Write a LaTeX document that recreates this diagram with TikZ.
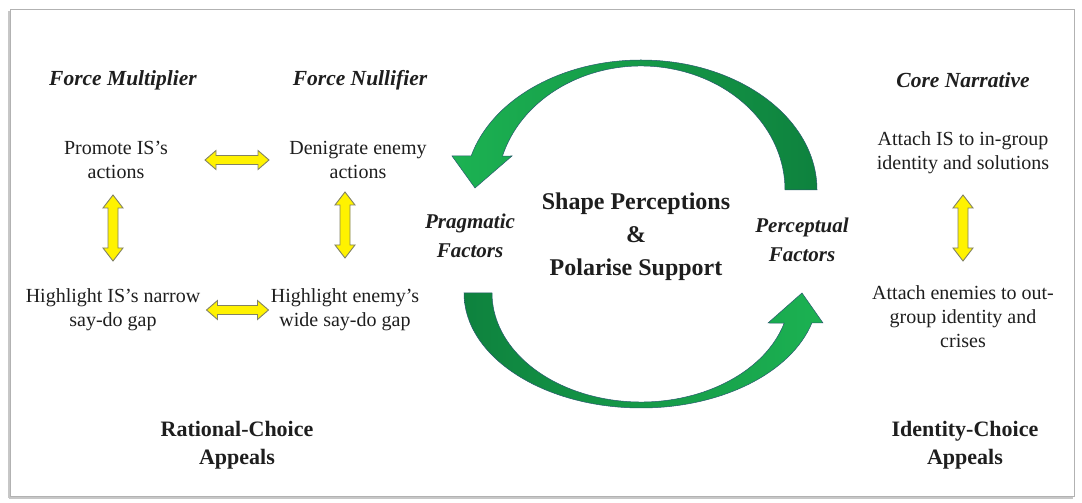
\documentclass[tikz,border=0pt]{standalone}
\usepackage{fontspec}
\setmainfont{Liberation Serif}
\definecolor{gbright}{RGB}{28,178,82}
\definecolor{gdark}{RGB}{14,130,62}
\definecolor{gline}{RGB}{40,90,110}
\definecolor{yline}{RGB}{130,130,100}
\definecolor{ink}{RGB}{30,30,30}
\tikzset{
  txt/.style={font=\fontsize{20}{24}\selectfont, align=center, text=ink, inner sep=0pt},
  headtxt/.style={font=\fontsize{21.5}{25}\selectfont\bfseries\itshape, align=center, text=ink, inner sep=0pt},
  appeal/.style={font=\fontsize{22}{28}\selectfont\bfseries, align=center, text=ink, inner sep=0pt},
  factor/.style={font=\fontsize{21}{29}\selectfont\bfseries\itshape, align=center, text=ink, inner sep=0pt},
  hub/.style={font=\fontsize{24}{33}\selectfont\bfseries, align=center, text=ink, inner sep=0pt},
  yarrow/.style={fill=yellow, draw=yline, line width=0.9pt, line join=miter},
  garrow/.style={draw=gline, line width=0.5pt},
}
% double block arrow centred on a named coordinate
\newcommand\ydarrow[5]{% coord, half length, head length, body half width, head half width ; rotation via scope
  \draw[yarrow] ($(#1)+(-#2,0)$) -- ++(#3,#5) -- ++(0,-#5+#4) -- ($(#1)+(#2-#3,#4)$) -- ++(0,#5-#4) -- ($(#1)+(#2,0)$) -- ++(-#3,-#5) -- ++(0,#5-#4) -- ($(#1)+(-#2+#3,-#4)$) -- ++(0,-#5+#4) -- cycle;}
\newcommand\yvarrow[5]{%
  \draw[yarrow] ($(#1)+(0,-#2)$) -- ++(#5,#3) -- ++(-#5+#4,0) -- ($(#1)+(#4,#2-#3)$) -- ++(#5-#4,0) -- ($(#1)+(0,#2)$) -- ++(-#5,-#3) -- ++(#5-#4,0) -- ($(#1)+(-#4,-#2+#3)$) -- ++(-#5+#4,0) -- cycle;}
\usetikzlibrary{calc}
\begin{document}
\begin{tikzpicture}[x=1pt,y=1pt]
\useasboundingbox (0,0) rectangle (1082,503);
\fill[white] (0,0) rectangle (1082,503);
% frame with slight shadow
\draw[black!22, line width=2pt] (9,5) -- (9,492);
\draw[black!22, line width=2pt] (9,5) -- (1073,5);
\draw[black!30, line width=1pt] (10,6) rectangle (1074,493);

% headings
\node[headtxt] (fm) at (123,423) {Force Multiplier};
\node[headtxt] (fn) at (360,423) {Force Nullifier};
\node[headtxt] (cn) at (963,423) {Core Narrative};

% statements
\node[txt] (promote) at (116,343) {Promote IS's\\actions};
\node[txt] (denig) at (358,343) {Denigrate enemy\\actions};
\node[txt] (attachis) at (963,350) {Attach IS to in-group\\identity and solutions};
\node[txt] (hlis) at (113,193) {Highlight IS's narrow\\say-do gap};
\node[txt] (hlen) at (345,193) {Highlight enemy's\\wide say-do gap};
\node[txt] (attachen) at (963,186) {Attach enemies to out-\\group identity and\\crises};

% appeals
\node[appeal] (rational) at (237,58) {Rational-Choice\\Appeals};
\node[appeal] (identity) at (965,58) {Identity-Choice\\Appeals};

% factors and hub
\node[factor] (pragmatic) at (470,267) {Pragmatic\\Factors};
\node[factor] (perceptual) at (802,263) {Perceptual\\Factors};
\node[hub] (shape) at (636,266) {Shape Perceptions\\\&\\Polarise Support};

% yellow double arrows
\coordinate (ya1) at (237,343);
\coordinate (ya2) at (237.5,193);
\coordinate (yb1) at (113,275);
\coordinate (yb2) at (345,278);
\coordinate (yb3) at (963,275);
\ydarrow{ya1}{32}{11}{4.5}{9.5}
\ydarrow{ya2}{31}{11}{4.5}{9.5}
\yvarrow{yb1}{33}{13}{5}{10}
\yvarrow{yb2}{33}{13}{5}{10}
\yvarrow{yb3}{33}{13}{5}{10}

% green curved arrows
\coordinate (tc) at (641,313);
\path[garrow, left color=gbright, right color=gdark]
  ($(tc)+(176,0)$) arc[start angle=0, end angle=164.8, x radius=176, y radius=130]
  -- (452,347) -- (475,315) -- (512,347)
  -- ($(tc)+({144*cos(164.1)},{124*sin(164.1)})$)
  arc[start angle=164.1, end angle=0, x radius=144, y radius=124] -- cycle;
\coordinate (bc) at (641,210);
\path[garrow, left color=gdark, right color=gbright]
  ($(bc)+(-177,0)$) arc[start angle=180, end angle=344.9, x radius=177, y radius=115]
  -- (823,180) -- (802,210) -- (768,180)
  -- ($(bc)+({149*cos(344)},{109*sin(344)})$)
  arc[start angle=344, end angle=180, x radius=149, y radius=109] -- cycle;
\end{tikzpicture}
\end{document}
